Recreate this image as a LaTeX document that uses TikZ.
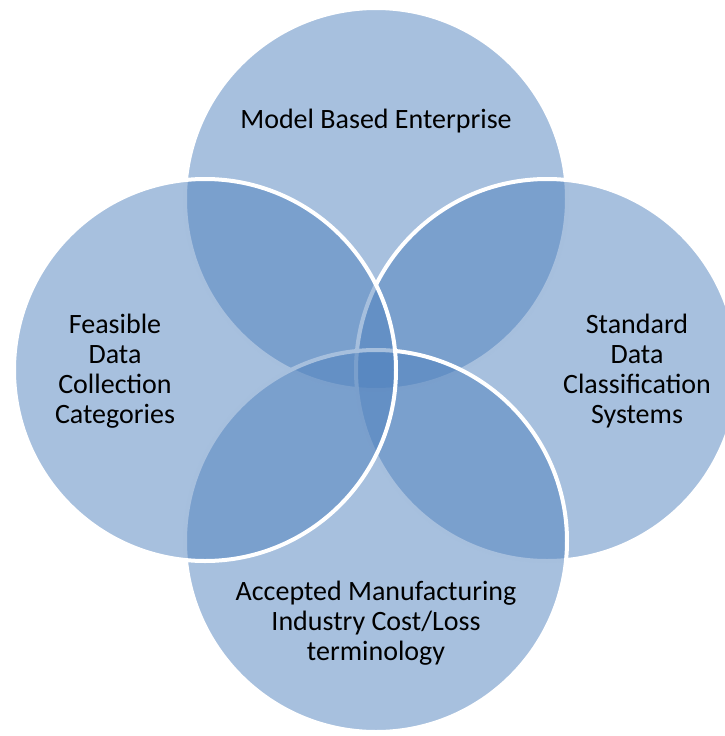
\documentclass[tikz,border=0pt]{standalone}
\usepackage{fontspec}
\setmainfont{Carlito}
\begin{document}
\begin{tikzpicture}[x=0.75pt,y=-0.75pt,
  set/.style={circle, inner sep=0pt, minimum size=286.5pt,
    fill={rgb,255:red,79;green,129;blue,189}, fill opacity=0.5,
    draw=white, draw opacity=1, line width=3pt},
  lbl/.style={align=center, font=\fontsize{21}{22.5}\selectfont, text=black}]
\useasboundingbox (0,0) rectangle (725,736);
\clip (0,0) rectangle (725,736);
% four overlapping sets, stacked top, right, bottom, left
\node[set] (mbe)  at (376,199) {};
\node[set] (sdcs) at (547,370) {};
\node[set] (amic) at (376,541) {};
\node[set] (fdcc) at (205,370) {};
% labels
\node[lbl] (tmbe)  at (376,121) {Model Based Enterprise};
\node[lbl] (tfdcc) at (115,371) {Feasible\\Data\\Collection\\Categories};
\node[lbl] (tsdcs) at (637,371) {Standard\\Data\\Classification\\Systems};
\node[lbl] (tamic) at (376,623) {Accepted Manufacturing\\Industry Cost/Loss\\terminology};
\end{tikzpicture}
\end{document}
